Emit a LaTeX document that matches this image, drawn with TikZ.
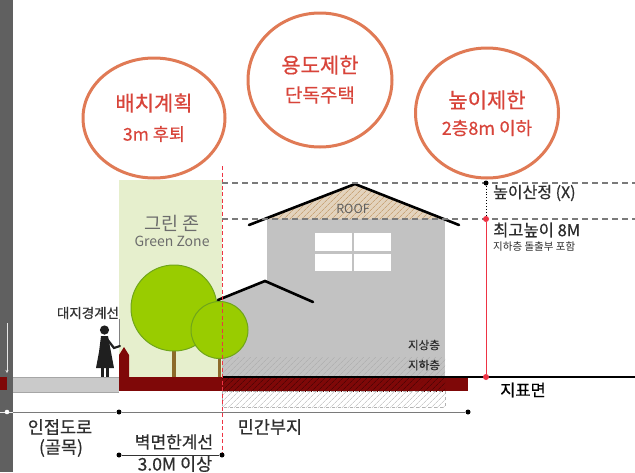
\documentclass[tikz,border=0pt]{standalone}
\usepackage{fontspec}
\setmainfont{Noto Sans CJK KR}
\newfontface\medface{Noto Sans CJK KR}[FakeBold=0.5]
\usetikzlibrary{patterns.meta,arrows.meta,shapes.geometric}

\definecolor{ring}{HTML}{E07A55}
\definecolor{ringtext}{HTML}{D8443A}
\definecolor{soil}{HTML}{7F0808}
\definecolor{lawn}{HTML}{E6EFCD}
\definecolor{leaf}{HTML}{99CC00}
\definecolor{leafedge}{HTML}{6FA51A}
\definecolor{bark}{HTML}{8C6A2A}
\definecolor{wall}{HTML}{C2C2C2}
\definecolor{roofhatch}{HTML}{C9A57A}
\definecolor{roofbase}{HTML}{E3D3BD}
\definecolor{guide}{HTML}{7A7A7A}
\definecolor{sidebar}{HTML}{606060}
\definecolor{pave}{HTML}{CACACA}
\definecolor{limitred}{HTML}{EE3344}
\definecolor{labelgray}{HTML}{2E2E2E}

\newcommand{\fsz}[1]{\fontsize{#1}{#1}\selectfont}

\begin{document}
\begin{tikzpicture}[x=1pt,y=-1pt,
  ringnode/.style={draw=ring, line width=3pt, ellipse, inner sep=0pt},
  ringlabel/.style={text=ringtext, inner sep=0pt, font=\medface},
  tag/.style={text=labelgray, inner sep=0pt, font=\medface},
  lighttag/.style={text=gray!85!black, inner sep=0pt},
  hdash/.style={draw=guide, line width=1.3pt, dash pattern=on 6pt off 4pt},
  dimline/.style={draw=guide, line width=0.9pt},
  dot/.style={circle, fill=black, inner sep=0pt, minimum size=5pt},
  reddot/.style={circle, fill=limitred, inner sep=0pt, minimum size=6pt},
  roofline/.style={line width=2.6pt, line cap=round},
  crown/.style={fill=leaf, draw=leafedge, line width=1pt},
  trunk/.style={draw=bark, line width=3.5pt},
]
\useasboundingbox (0,0) rectangle (635,472);
\fill[white] (0,0) rectangle (635,472);

% ---- side strip on the left edge
\fill[sidebar] (0,0) rectangle (13,472);
\draw[white!80!gray, line width=0.8pt, -{Stealth[length=3pt,width=3pt]}] (7,323) -- (7,373);
\fill[soil] (0,377) rectangle (7,390);
\draw[white!85!gray, line width=0.8pt] (0,412) -- (13,412);
\fill[white] (7,412) circle (2.3pt);

% ---- green setback zone
\fill[lawn] (119,180) rectangle (222,377);
\node[lighttag] (zoneko) at (172,223) {\fsz{18.5}그린 존};
\node[lighttag] (zoneen) at (172,241) {\fsz{14}Green Zone};

% ---- small annex house
\fill[wall] (222,298.3) -- (265,281) -- (300,296) -- (300,377) -- (222,377) -- cycle;
\fill[white] (268,303) rectangle (289,332);

% ---- main house
\fill[wall] (267,219) rectangle (445,377);
\fill[roofbase] (267,219) -- (355,184) -- (445,219) -- cycle;
\fill[pattern={Lines[angle=45,distance=4pt,line width=0.7pt]}, pattern color=roofhatch]
  (267,219) -- (355,184) -- (445,219) -- cycle;
\node[lighttag, text=gray!75!black] (roof) at (353,209) {\fsz{12.5}ROOF};
\fill[white] (315,233) rectangle (352,251);
\fill[white] (354,233) rectangle (391,251);
\fill[white] (315,254) rectangle (352,271);
\fill[white] (354,254) rectangle (391,271);

% basement band above the ground line
\fill[pattern={Lines[angle=45,distance=4pt,line width=0.8pt]}, pattern color=gray!60]
  (222,357) rectangle (445,377);
\node[tag] (upper) at (424,345) {\fsz{11.5}지상층};
\node[tag] (lower) at (424,365) {\fsz{11.5}지하층};

% roofs
\draw[roofline] (249,225) -- (355,184) -- (459,225);
\draw[roofline] (218,300) -- (265,281) -- (313,302);

% ---- trees
\draw[trunk] (174,345) -- (174,377);
\draw[trunk] (219.5,352) -- (219.5,377);
\draw[crown] (174,308) circle (43);
\draw[crown] (219.5,330) circle (28.5);

% ---- ground
\fill[pave] (13,377) rectangle (119,392);
\draw[gray!70, line width=0.6pt] (13,377) -- (119,377) (13,392) -- (119,392);
\fill[soil] (119,377) rectangle (468,391);
\fill[pattern={Lines[angle=45,distance=4pt,line width=0.8pt]}, pattern color=black!35!soil]
  (222,377) rectangle (445,391);
\fill[pattern={Lines[angle=45,distance=4pt,line width=0.7pt]}, pattern color=gray!40]
  (222,391) rectangle (445,407);
\draw[gray!60, dashed, line width=0.6pt] (222,391) rectangle (445,407);
\draw[black, line width=2pt] (222,377) -- (635,377);

% ---- boundary post and pedestrian
\fill[soil] (119,377) -- (119,355) -- (124,347) -- (129,355) -- (129,377) -- cycle;
\draw[gray, line width=0.6pt] (119,319) -- (119,346);
\node[tag, text=black!80] (boundary) at (88,313) {\fsz{13.5}대지경계선};
\begin{scope}[fill=black!88]
  \fill (104.5,330) circle (4.6);
  \fill (101,336) -- (108,336) -- (111,352) -- (114,368) -- (96,368) -- (99,352) -- cycle;
  \draw[black!88, line width=2.2pt, line cap=round] (107,339) -- (114,348) -- (120,346);
  \draw[black!88, line width=2.4pt] (102.5,366) -- (102.5,377) (107.5,366) -- (107.5,377);
\end{scope}

% ---- site line (setback limit)
\draw[limitred, line width=0.8pt, dash pattern=on 4pt off 2.5pt] (222,166) -- (222,455);

% ---- height guides
\coordinate (hcalcL) at (222,183);
\coordinate (hcalcR) at (635,183);
\coordinate (hmaxL) at (222,219);
\coordinate (hmaxR) at (635,219);
\draw[hdash] (hcalcL) -- (hcalcR);
\draw[hdash] (hmaxL) -- (hmaxR);
\node[dot] (calc) at (486,183) {};
\node[reddot] (top) at (486,219) {};
\node[reddot] (base) at (486,377) {};
\draw[black, line width=0.9pt, dotted] (calc) -- (top);
\draw[limitred, line width=1pt] (top) -- (base);
\node[tag, anchor=west] (calctext) at (493,193) {\fsz{16}높이산정 (X)};
\node[tag, anchor=west] (maxtext) at (493,230) {\fsz{16.5}최고높이 8M};
\node[tag, anchor=west, font=\normalfont] (maxnote) at (493,247) {\fsz{10.5}지하층 돌출부 포함};
\node[tag, text=black] (ground) at (523,390) {\fsz{16.5}지표면};

% ---- dimension lines
\coordinate (roadL) at (13,412);
\node[dot] (lot) at (119,412) {};
\node[dot] (lotend) at (468,412) {};
\draw[dimline] (roadL) -- (lot) -- (lotend);
\node[dot] (wallA) at (119,455) {};
\node[dot] (wallB) at (222,455) {};
\draw[black!80, line width=0.9pt] (wallA) -- (wallB);
\node[tag] (road) at (60,427) {\fsz{17.5}인접도로};
\node[tag] (alley) at (61,448) {\fsz{17.5}(골목)};
\node[tag] (private) at (270,427) {\fsz{17.5}민간부지};
\node[tag] (wallline) at (174,442) {\fsz{17}벽면한계선};
\node[tag] (setback) at (175,464) {\fsz{17.5}3.0M 이상};

% ---- regulation rings
\node[ringnode, minimum width=142pt, minimum height=120pt] (plan) at (154,118) {};
\node[ringlabel] (planA) at (154,103) {\fsz{21}배치계획};
\node[ringlabel] (planB) at (154,134) {\fsz{17.5}3m 후퇴};
\node[ringnode, minimum width=144pt, minimum height=134pt] (use) at (320,80) {};
\node[ringlabel] (useA) at (320,65) {\fsz{21}용도제한};
\node[ringlabel] (useB) at (320,95) {\fsz{19}단독주택};
\node[ringnode, minimum width=143pt, minimum height=130pt] (height) at (487,113) {};
\node[ringlabel] (heightA) at (487,100) {\fsz{21}높이제한};
\node[ringlabel] (heightB) at (487,128) {\fsz{18}2층8m 이하};
\end{tikzpicture}
\end{document}
